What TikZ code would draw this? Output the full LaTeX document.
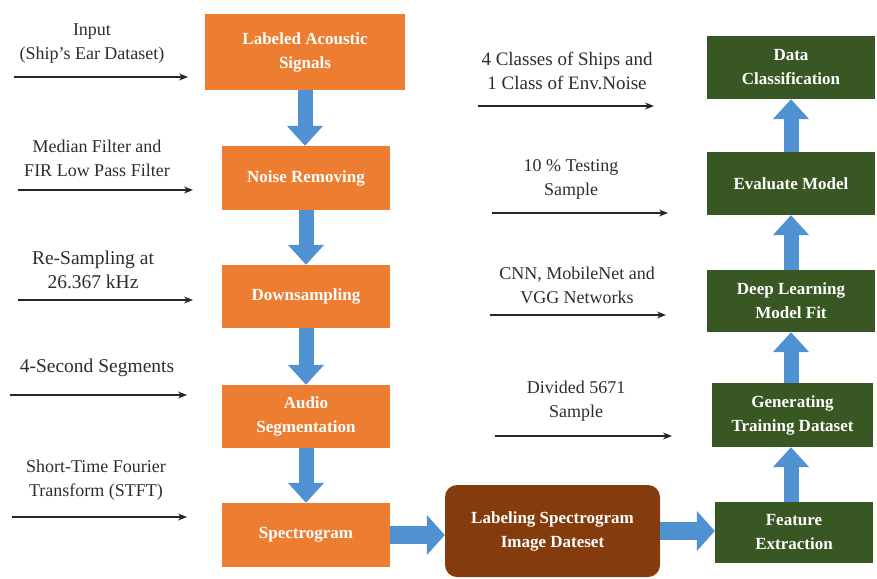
\documentclass[tikz,border=0pt]{standalone}
\usepackage{fontspec}
\setmainfont{LiberationSerif}[Extension=.ttf, UprightFont=*-Regular, BoldFont=*-Bold, ItalicFont=*-Italic, BoldItalicFont=*-BoldItalic]
\usetikzlibrary{arrows.meta}
\definecolor{orng}{RGB}{237,125,49}
\definecolor{grn}{RGB}{56,87,35}
\definecolor{brn}{RGB}{132,60,12}
\definecolor{blu}{RGB}{80,145,210}
\definecolor{txt}{RGB}{45,45,45}
\begin{document}
\begin{tikzpicture}[x=1pt,y=-1pt,
  obox/.style={fill=orng, text=white, font=\fontsize{17}{24}\selectfont\bfseries, align=center, inner sep=0pt, minimum width=168pt},
  gbox/.style={fill=grn, text=white, font=\fontsize{17}{24}\selectfont\bfseries, align=center, inner sep=0pt, minimum width=168pt},
  bbox/.style={fill=brn, text=white, font=\fontsize{17}{24}\selectfont\bfseries, align=center, inner sep=0pt, rounded corners=12pt},
  lbl/.style={font=\fontsize{18}{24}\selectfont, align=center, text=txt},
  thinarr/.style={-{Stealth[length=9pt,width=7pt]}, line width=1.3pt, draw=black!85},
  fatv/.style={line width=15pt, draw=blu, -{Triangle[length=20pt,width=35pt]}},
  fath/.style={line width=18pt, draw=blu, -{Triangle[length=18pt,width=39pt]}}]
\useasboundingbox (0,0) rectangle (877,578);
% orange column
\node[obox, minimum width=200pt, minimum height=76pt] (las) at (305,52) {Labeled Acoustic\\Signals};
\node[obox, minimum height=64pt] (nr) at (306,178) {Noise Removing};
\node[obox, minimum height=63pt] (ds) at (306,296.5) {Downsampling};
\node[obox, minimum height=63pt] (as) at (306,416.5) {Audio\\Segmentation};
\node[obox, minimum height=64pt] (sp) at (306,535) {Spectrogram};
% brown
\node[bbox, minimum width=215pt, minimum height=92pt] (ls) at (552.5,531) {Labeling Spectrogram\\Image Dateset};
% green column
\node[gbox, minimum height=63pt] (dc) at (791,67.5) {Data\\Classification};
\node[gbox, minimum height=63pt] (em) at (791,183.5) {Evaluate Model};
\node[gbox, minimum height=62pt] (dl) at (791,301) {Deep Learning\\Model Fit};
\node[gbox, minimum width=161pt, minimum height=64pt] (gt) at (792.5,415) {Generating\\Training Dataset};
\node[gbox, minimum width=158pt, minimum height=61pt] (fe) at (794,532.5) {Feature\\Extraction};
% blue arrows
\draw[fatv] (las.south) -- (las.south |- nr.north);
\draw[fatv] (nr.south) -- (ds.north);
\draw[fatv] (ds.south) -- (as.north);
\draw[fatv] (as.south) -- (sp.north);
\draw[fath] (sp.east) -- (sp.east -| ls.west);
\draw[fath] (ls.east) -- (ls.east -| fe.west);
\draw[fatv] (fe.north -| dc.south) -- (gt.south -| dc.south);
\draw[fatv] (gt.north -| dc.south) -- (dl.south);
\draw[fatv] (dl.north) -- (em.south);
\draw[fatv] (em.north) -- (dc.south);
% left labels and arrows
\node[lbl] (l1) at (92,44) {Input\\(Ship's Ear Dataset)};
\node[lbl] (l2) at (97,158) {Median Filter and\\FIR Low Pass Filter};
\node[lbl, font=\fontsize{19.5}{24}\selectfont] (l3) at (93,270) {Re-Sampling at\\26.367 kHz};
\node[lbl, font=\fontsize{19.5}{24}\selectfont] (l4) at (97,368) {4-Second Segments};
\node[lbl] (l5) at (96,480) {Short-Time Fourier\\Transform (STFT)};
\coordinate (a1s) at (14,77);  \coordinate (a1e) at (188,77);
\coordinate (a2s) at (18,190); \coordinate (a2e) at (193,190);
\coordinate (a3s) at (18,300); \coordinate (a3e) at (193,300);
\coordinate (a4s) at (10,395); \coordinate (a4e) at (187,395);
\coordinate (a5s) at (12,517); \coordinate (a5e) at (187,517);
\draw[thinarr] (a1s) -- (a1e);
\draw[thinarr] (a2s) -- (a2e);
\draw[thinarr] (a3s) -- (a3e);
\draw[thinarr] (a4s) -- (a4e);
\draw[thinarr] (a5s) -- (a5e);
% right labels and arrows
\node[lbl, font=\fontsize{19}{24}\selectfont] (r1) at (567,71) {4 Classes of Ships and\\1 Class of Env.Noise};
\node[lbl] (r2) at (571,179) {10 \% Testing\\Sample};
\node[lbl] (r3) at (577,285) {CNN, MobileNet and\\VGG Networks};
\node[lbl] (r4) at (576,401) {Divided 5671\\Sample};
\coordinate (b1s) at (478,106); \coordinate (b1e) at (654,106);
\coordinate (b2s) at (492,213); \coordinate (b2e) at (668,213);
\coordinate (b3s) at (490,315); \coordinate (b3e) at (666,315);
\coordinate (b4s) at (495,436); \coordinate (b4e) at (672,436);
\draw[thinarr] (b1s) -- (b1e);
\draw[thinarr] (b2s) -- (b2e);
\draw[thinarr] (b3s) -- (b3e);
\draw[thinarr] (b4s) -- (b4e);
\end{tikzpicture}
\end{document}
